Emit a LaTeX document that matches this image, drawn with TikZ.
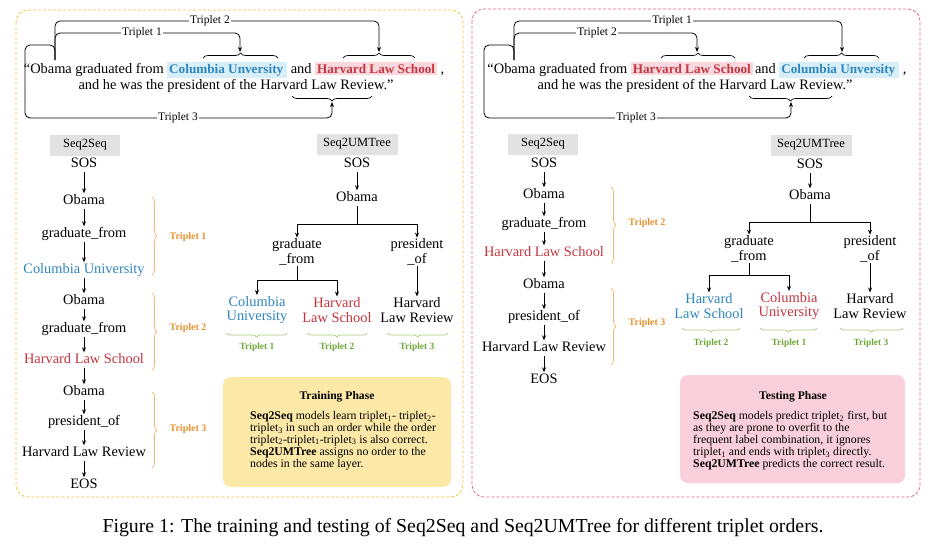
\documentclass[tikz,border=0pt]{standalone}
\usepackage{fontspec}
\setmainfont{Liberation Serif}
\usetikzlibrary{arrows.meta,decorations.pathreplacing,calc}
\definecolor{panelY}{HTML}{F5C243}
\definecolor{panelP}{HTML}{E0608C}
\definecolor{grayb}{HTML}{E2E2E2}
\definecolor{cblue}{HTML}{2E86BF}
\definecolor{cred}{HTML}{C4353F}
\definecolor{hlblue}{HTML}{D8EEF9}
\definecolor{hlred}{HTML}{F9D8DF}
\definecolor{corange}{HTML}{E8932F}
\definecolor{borange}{HTML}{F2B76A}
\definecolor{cgreen}{HTML}{6EA83A}
\definecolor{bgreen}{HTML}{A9CD7E}
\definecolor{tyellow}{HTML}{FCE8A7}
\definecolor{tpink}{HTML}{F8CFDA}
\newcommand{\hlb}[1]{{\setlength{\fboxsep}{1.8pt}\colorbox{hlblue}{\fontsize{13.2}{14}\selectfont\textbf{\textcolor{cblue}{#1}}}}}
\newcommand{\hlr}[1]{{\setlength{\fboxsep}{1.8pt}\colorbox{hlred}{\fontsize{13.2}{14}\selectfont\textbf{\textcolor{cred}{#1}}}}}
\begin{document}
\begin{tikzpicture}[x=1pt,y=-1pt,
  panel/.style={rounded corners=12pt, dashed, dash pattern=on 3pt off 2pt, line width=0.8pt},
  sent/.style={font=\fontsize{14.4}{15.5}\selectfont, inner sep=0pt},
  conn/.style={line width=0.8pt, rounded corners=5pt},
  arr/.style={-{Stealth[length=5pt,width=4pt]}, line width=0.8pt},
  lin/.style={line width=0.8pt},
  tlbl/.style={font=\fontsize{11.5}{12}\selectfont, fill=white, inner sep=1pt},
  tbrace/.style={decorate, decoration={brace, amplitude=5pt}, line width=0.7pt},
  gbox/.style={fill=grayb, minimum width=70pt, minimum height=21pt, inner sep=0pt, font=\fontsize{12.5}{13}\selectfont},
  tok/.style={font=\fontsize{14.4}{15.5}\selectfont, inner sep=1pt, text height=10pt, text depth=3pt},
  mtok/.style={font=\fontsize{14.4}{14.5}\selectfont, inner sep=1pt, align=center},
  obrace/.style={decorate, decoration={brace, amplitude=5pt}, draw=borange, line width=0.7pt},
  olbl/.style={font=\fontsize{10}{11}\selectfont\bfseries, text=corange},
  gbrace/.style={decorate, decoration={brace, amplitude=4pt}, draw=bgreen, line width=0.7pt},
  glbl/.style={font=\fontsize{9.5}{10}\selectfont\bfseries, text=cgreen},
  pbox/.style={rounded corners=8pt, inner sep=0pt},
  ptitle/.style={font=\fontsize{11.6}{12}\selectfont\bfseries},
  pbody/.style={font=\fontsize{11.8}{11.9}\selectfont, align=left, inner sep=0pt, anchor=north west}
]
\useasboundingbox (0,0) rectangle (928,550);
\fill[white] (0,0) rectangle (928,550);

% ---------------- panels ----------------
\draw[panel, draw=panelY] (16,10) rectangle (463,497);
\draw[panel, draw=panelP] (472,9) rectangle (920,497);

% ================= LEFT PANEL =================
\node[sent] (Ls1) at (234,70) {“Obama graduated from \hlb{Columbia Unversity\,} and \hlr{Harvard Law School} ,};
\node[sent] (Ls2) at (236,86) {and he was the president of the Harvard Law Review.”};

\draw[tbrace] (203,58) -- (278,58);
\draw[tbrace] (343,58) -- (415,58);
\draw[tbrace] (372,96) -- (292,96);

\coordinate (Lst) at (55,60);
\coordinate (Lt1) at (240,52);
\coordinate (Lt2) at (379,52);
\coordinate (Lt3) at (332,102);
\draw[conn, arr] (Lst) -- ++(0,-27) -| (Lt1);
\draw[conn, arr] (Lst) -- ++(0,-39) -| (Lt2);
\draw[conn, arr] (Lst) -- ++(0,-15) -- ++(-30,0) -- ++(0,73) -| (Lt3);
\node[tlbl] (LT1) at (142,33) {Triplet 1};
\node[tlbl] (LT2) at (210,21) {Triplet 2};
\node[tlbl] (LT3) at (178,118) {Triplet 3};

% Seq2Seq left
\node[gbox] (Lg1) at (85,145) {Seq2Seq};
\node[tok] (LS0) at (84,164) {SOS};
\node[tok] (LS1) at (84,201) {Obama};
\node[tok] (LS2) at (84,234) {graduate\_from};
\node[tok, text=cblue] (LS3) at (84,270) {Columbia University};
\node[tok] (LS4) at (84,301) {Obama};
\node[tok] (LS5) at (84,329) {graduate\_from};
\node[tok, text=cred] (LS6) at (84,360) {Harvard Law School};
\node[tok] (LS7) at (84,392) {Obama};
\node[tok] (LS8) at (84,422) {president\_of};
\node[tok] (LS9) at (84,453) {Harvard Law Review};
\node[tok] (LS10) at (84,485) {EOS};
\foreach \a/\b in {0/1,1/2,2/3,3/4,4/5,5/6,6/7,7/8,8/9,9/10}
  \draw[arr] (LS\a) -- (LS\b);

\draw[obrace] (152,197) -- (152,275);
\draw[obrace] (152,293) -- (152,370);
\draw[obrace] (152,392) -- (152,468);
\node[olbl] (LO1) at (188,237) {Triplet 1};
\node[olbl] (LO2) at (188,328) {Triplet 2};
\node[olbl] (LO3) at (188,429) {Triplet 3};

% Seq2UMTree left
\node[gbox, minimum width=81pt] (Lg2) at (357,144) {Seq2UMTree};
\node[tok] (LU0) at (357,164) {SOS};
\node[tok] (LU1) at (357,198) {Obama};
\node[mtok] (LU2) at (297,252) {graduate\\\_from};
\node[mtok] (LU3) at (417,252) {president\\\_of};
\node[mtok, text=cblue] (LU4) at (257,310) {Columbia\\University};
\node[mtok, text=cred] (LU5) at (337,310) {Harvard\\Law School};
\node[mtok] (LU6) at (417,310) {Harvard\\Law Review};
\coordinate (LJ1) at (357,224);
\coordinate (LJ2) at (297,280);
\draw[arr] (LU0) -- (LU1);
\draw[lin] (LU1) -- (LJ1);
\draw[arr] (LJ1) -| (LU2);
\draw[arr] (LJ1) -| (LU3);
\draw[lin] (LU2) -- (LJ2);
\draw[arr] (LJ2) -| (LU4);
\draw[arr] (LJ2) -| (LU5);
\draw[arr] (LU3) -- (LU6);
\draw[gbrace] (287,333) -- (226,333);
\draw[gbrace] (367,333) -- (307,333);
\draw[gbrace] (448,333) -- (387,333);
\node[glbl] (LG1) at (257,347) {Triplet 1};
\node[glbl] (LG2) at (337,347) {Triplet 2};
\node[glbl] (LG3) at (417,347) {Triplet 3};

% Training box
\node[pbox, fill=tyellow, minimum width=228pt, minimum height=110pt] (Ltb) at (337,432) {};
\node[ptitle] (Ltt) at (337,397) {Training Phase};
\node[pbody] (Ltx) at (250,411) {\textbf{Seq2Seq} models learn triplet\textsubscript{1}- triplet\textsubscript{2}-\\
triplet\textsubscript{3} in such an order while the order\\
triplet\textsubscript{2}-triplet\textsubscript{1}-triplet\textsubscript{3} is also correct.\\
\textbf{Seq2UMTree} assigns no order to the\\
nodes in the same layer.};

% ================= RIGHT PANEL =================
\node[sent] (Rs1) at (697,70) {“Obama graduated from \hlr{Harvard Law School}\,and \hlb{Columbia Unversity\,} ,};
\node[sent] (Rs2) at (695,86) {and he was the president of the Harvard Law Review.”};

\draw[tbrace] (661,58) -- (735,58);
\draw[tbrace] (804,58) -- (879,58);
\draw[tbrace] (832,96) -- (749,96);

\coordinate (Rst) at (514,60);
\coordinate (Rt1) at (842,52);
\coordinate (Rt2) at (697,52);
\coordinate (Rt3) at (791,102);
\draw[conn, arr] (Rst) -- ++(0,-39) -| (Rt1);
\draw[conn, arr] (Rst) -- ++(0,-27) -| (Rt2);
\draw[conn, arr] (Rst) -- ++(0,-15) -- ++(-30,0) -- ++(0,73) -| (Rt3);
\node[tlbl] (RT1) at (672,21) {Triplet 1};
\node[tlbl] (RT2) at (597,33) {Triplet 2};
\node[tlbl] (RT3) at (636,118) {Triplet 3};

% Seq2Seq right
\node[gbox] (Rg1) at (543,144) {Seq2Seq};
\node[tok] (RS0) at (544,164) {SOS};
\node[tok] (RS1) at (544,195) {Obama};
\node[tok] (RS2) at (544,224) {graduate\_from};
\node[tok, text=cred] (RS3) at (544,253) {Harvard Law School};
\node[tok] (RS4) at (544,285) {Obama};
\node[tok] (RS5) at (544,317) {president\_of};
\node[tok] (RS6) at (544,348) {Harvard Law Review};
\node[tok] (RS7) at (544,380) {EOS};
\foreach \a/\b in {0/1,1/2,2/3,3/4,4/5,5/6,6/7}
  \draw[arr] (RS\a) -- (RS\b);
\draw[obrace] (611,187) -- (611,263);
\draw[obrace] (611,288) -- (611,365);
\node[olbl] (RO2) at (647,223) {Triplet 2};
\node[olbl] (RO3) at (647,323) {Triplet 3};

% Seq2UMTree right
\node[gbox, minimum width=81pt] (Rg2) at (811,145) {Seq2UMTree};
\node[tok] (RU0) at (810,165) {SOS};
\node[tok] (RU1) at (810,196) {Obama};
\node[mtok] (RU2) at (749,249) {graduate\\\_from};
\node[mtok] (RU3) at (870,249) {president\\\_of};
\node[mtok, text=cblue] (RU4) at (709,306) {Harvard\\Law School};
\node[mtok, text=cred] (RU5) at (789,306) {Columbia\\University};
\node[mtok] (RU6) at (870,306) {Harvard\\Law Review};
\coordinate (RJ1) at (810,222);
\coordinate (RJ2) at (749,275);
\draw[arr] (RU0) -- (RU1);
\draw[lin] (RU1) -- (RJ1);
\draw[arr] (RJ1) -| (RU2);
\draw[arr] (RJ1) -| (RU3);
\draw[lin] (RU2) -- (RJ2);
\draw[arr] (RJ2) -| (RU4);
\draw[arr] (RJ2) -| (RU5);
\draw[arr] (RU3) -- (RU6);
\draw[gbrace] (740,328) -- (682,328);
\draw[gbrace] (817,328) -- (760,328);
\draw[gbrace] (903,328) -- (840,328);
\node[glbl] (RG2) at (711,343) {Triplet 2};
\node[glbl] (RG1) at (789,343) {Triplet 1};
\node[glbl] (RG3) at (871,343) {Triplet 3};

% Testing box
\node[pbox, fill=tpink, minimum width=225pt, minimum height=108pt] (Rtb) at (792.5,429) {};
\node[ptitle] (Rtt) at (793,397) {Testing Phase};
\node[pbody] (Rtx) at (693,411) {\textbf{Seq2Seq} models predict triplet\textsubscript{2} first, but\\
as they are prone to overfit to the\\
frequent label combination, it ignores\\
triplet\textsubscript{1} and ends with triplet\textsubscript{3} directly.\\
\textbf{Seq2UMTree} predicts the correct result.};

% caption
\node[font=\fontsize{19.8}{20}\selectfont, inner sep=0pt] (cap) at (463,528) {Figure 1: The training and testing of Seq2Seq and Seq2UMTree for different triplet orders.};
\end{tikzpicture}
\end{document}
